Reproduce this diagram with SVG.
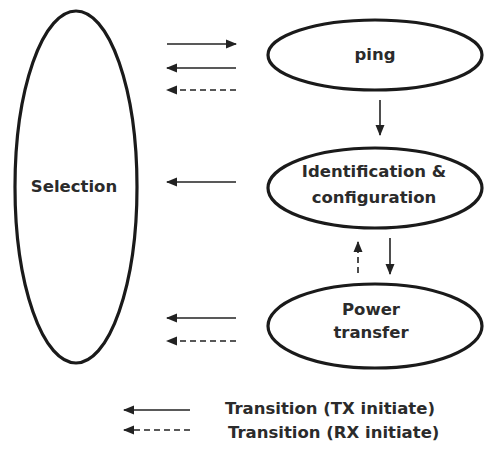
<svg xmlns="http://www.w3.org/2000/svg" width="487" height="452" viewBox="0 0 487 452">
<style>
.node{fill:#fff;stroke:#1a1a1a;stroke-width:3.2}
.lbl{font-family:"DejaVu Sans",Verdana,sans-serif;font-weight:bold;font-size:16.5px;fill:#2b2b2b;text-anchor:middle}
.leg{font-family:"DejaVu Sans",Verdana,sans-serif;font-weight:bold;font-size:16.5px;fill:#2b2b2b}
.c{stroke:#222;stroke-width:1.6;fill:none}
.d{stroke-dasharray:6 4}
</style>
<defs>
<marker id="ah" viewBox="0 0 11 10" refX="10" refY="5" markerWidth="11" markerHeight="10" markerUnits="userSpaceOnUse" orient="auto">
<path d="M0,0.5 L11,5 L0,9.5 Z" fill="#222"/>
</marker>
</defs>
<rect width="487" height="452" fill="#fff"/>
<g id="selection">
<ellipse class="node" cx="76" cy="187" rx="61" ry="176"/>
<text class="lbl" x="74" y="192">Selection</text>
</g>
<g id="ping">
<ellipse class="node" cx="375" cy="55" rx="107" ry="35"/>
<text class="lbl" x="375" y="60">ping</text>
</g>
<g id="identification">
<ellipse class="node" cx="375" cy="188" rx="107" ry="40"/>
<text class="lbl" x="374" y="177">Identification &amp;</text>
<text class="lbl" x="374" y="203">configuration</text>
</g>
<g id="power">
<ellipse class="node" cx="375" cy="326" rx="107" ry="42"/>
<text class="lbl" x="371" y="315">Power</text>
<text class="lbl" x="371" y="338">transfer</text>
</g>
<g id="connectors">
<line class="c" x1="167" y1="44" x2="236" y2="44" marker-end="url(#ah)"/>
<line class="c" x1="236" y1="68" x2="167" y2="68" marker-end="url(#ah)"/>
<line class="c d" x1="236" y1="90" x2="167" y2="90" marker-end="url(#ah)"/>
<line class="c" x1="236" y1="182" x2="167" y2="182" marker-end="url(#ah)"/>
<line class="c" x1="236" y1="318" x2="167" y2="318" marker-end="url(#ah)"/>
<line class="c d" x1="236" y1="341" x2="167" y2="341" marker-end="url(#ah)"/>
<line class="c" x1="380" y1="100" x2="380" y2="135" marker-end="url(#ah)"/>
<line class="c d" x1="358" y1="273" x2="358" y2="242" marker-end="url(#ah)"/>
<line class="c" x1="390" y1="238" x2="390" y2="274" marker-end="url(#ah)"/>
</g>
<g id="legend">
<line class="c" x1="190" y1="410" x2="124" y2="410" marker-end="url(#ah)"/>
<line class="c d" x1="190" y1="430" x2="124" y2="430" marker-end="url(#ah)"/>
<text class="leg" x="225" y="414">Transition (TX initiate)</text>
<text class="leg" x="228" y="438">Transition (RX initiate)</text>
</g>
</svg>
